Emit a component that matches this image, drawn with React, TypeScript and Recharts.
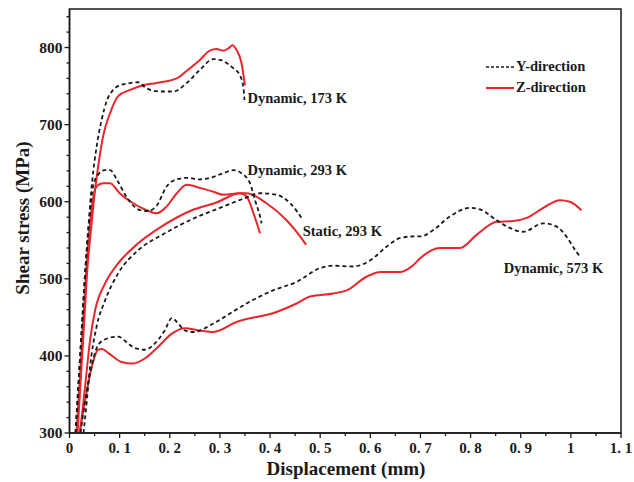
import React from 'react';
import { LineChart, Line, XAxis, YAxis, ReferenceArea, ReferenceDot, Legend } from 'recharts';

// ---- data: [displacement (mm), shear stress (MPa)] ----
const dyn173Y = [
  [0.012, 300], [0.024, 430], [0.032, 516], [0.038, 570], [0.045, 625], [0.054, 671], [0.064, 706],
  [0.075, 732], [0.087, 745], [0.1, 751], [0.114, 753], [0.137, 755], [0.154, 747], [0.18, 743],
  [0.207, 743], [0.234, 754], [0.26, 771], [0.287, 785], [0.3, 784], [0.327, 773], [0.34, 764],
  [0.347, 747], [0.349, 732],
];
const dyn173Z = [
  [0.016, 300], [0.028, 430], [0.036, 516], [0.043, 565], [0.05, 610], [0.057, 645], [0.067, 685],
  [0.081, 715], [0.097, 737], [0.121, 745], [0.147, 751], [0.174, 754], [0.214, 760], [0.234, 770],
  [0.26, 784], [0.28, 796], [0.293, 798], [0.307, 796], [0.317, 799], [0.325, 803], [0.333, 797],
  [0.343, 780], [0.35, 751],
];
const dyn293Y = [
  [0.012, 300], [0.024, 430], [0.032, 516], [0.04, 580], [0.047, 620], [0.058, 636], [0.07, 641],
  [0.081, 641], [0.095, 628], [0.114, 606], [0.141, 589], [0.157, 588], [0.174, 595], [0.194, 620],
  [0.214, 629], [0.234, 631], [0.26, 629], [0.28, 631], [0.307, 637], [0.327, 641], [0.343, 637],
  [0.36, 624], [0.37, 602], [0.38, 581], [0.383, 572],
];
const dyn293Z = [
  [0.014, 300], [0.026, 430], [0.034, 516], [0.04, 565], [0.046, 600], [0.054, 620], [0.067, 624],
  [0.081, 624], [0.1, 611], [0.127, 598], [0.154, 589], [0.174, 585], [0.194, 594], [0.214, 611],
  [0.234, 622], [0.26, 618], [0.287, 613], [0.307, 609], [0.34, 611], [0.353, 607], [0.367, 585],
  [0.38, 559],
];
const static293Y = [
  [0.028, 300], [0.035, 345], [0.041, 386], [0.054, 438], [0.071, 472], [0.097, 507], [0.137, 537],
  [0.19, 559], [0.25, 579], [0.3, 592], [0.347, 604], [0.38, 611], [0.413, 609], [0.44, 598],
  [0.466, 576],
];
const static293Z = [
  [0.021, 300], [0.031, 360], [0.041, 420], [0.051, 459], [0.071, 494], [0.097, 520], [0.137, 546],
  [0.184, 568], [0.244, 589], [0.293, 599], [0.34, 611], [0.353, 611], [0.393, 598], [0.433, 576],
  [0.46, 555], [0.472, 544],
];
const dyn573Y = [
  [0.022, 300], [0.031, 342], [0.044, 386], [0.057, 414], [0.077, 423], [0.097, 425], [0.117, 416],
  [0.131, 410], [0.151, 408], [0.17, 416], [0.19, 433], [0.204, 449], [0.217, 442], [0.23, 433],
  [0.247, 431], [0.287, 442], [0.32, 455], [0.353, 468], [0.406, 485], [0.453, 496], [0.5, 514],
  [0.526, 517], [0.566, 516], [0.6, 524], [0.633, 542], [0.66, 553], [0.686, 555], [0.7, 555],
  [0.725, 563], [0.759, 581], [0.799, 592], [0.819, 590], [0.852, 576], [0.878, 566], [0.905, 561],
  [0.945, 572], [0.971, 568], [0.991, 555], [1.011, 535], [1.018, 529],
];
const dyn573Z = [
  [0.02, 300], [0.032, 345], [0.044, 385], [0.057, 408], [0.065, 409], [0.077, 404], [0.104, 392],
  [0.124, 390], [0.151, 397], [0.177, 412], [0.204, 429], [0.23, 436], [0.26, 433], [0.287, 431],
  [0.333, 444], [0.413, 457], [0.453, 468], [0.48, 477], [0.526, 481], [0.553, 485], [0.593, 503],
  [0.62, 509], [0.66, 509], [0.686, 518], [0.7, 527], [0.739, 540], [0.779, 540], [0.812, 557],
  [0.852, 574], [0.885, 575], [0.912, 579], [0.945, 592], [0.978, 602], [0.998, 600], [1.021, 589],
];

const xTicks = [0, 0.05, 0.1, 0.15, 0.2, 0.25, 0.3, 0.35, 0.4, 0.45, 0.5, 0.55, 0.6, 0.65, 0.7, 0.75, 0.8, 0.85, 0.9, 0.95, 1, 1.05, 1.1];
const yTicks = [300, 320, 340, 360, 380, 400, 420, 440, 460, 480, 500, 520, 540, 560, 580, 600, 620, 640, 660, 680, 700, 720, 740, 760, 780, 800, 820, 840];

const annotations = [
  { text: 'Dynamic, 173 K', x: 0.355, y: 735 },
  { text: 'Dynamic, 293 K', x: 0.355, y: 641 },
  { text: 'Static, 293 K', x: 0.465, y: 562 },
  { text: 'Dynamic, 573 K', x: 0.866, y: 514 },
];

const FONT = '"Liberation Serif", "Times New Roman", serif';
const RED = '#e8262b';
const BLACK = '#1a1a1a';

const toPts = (arr: number[][]) => arr.map(([x, y]) => ({ x, y }));

const seriesY = [dyn173Y, dyn293Y, static293Y, dyn573Y];
const seriesZ = [dyn173Z, dyn293Z, static293Z, dyn573Z];

const fmtX = (v: number) => {
  const r = Math.round(v * 10) / 10;
  if (Number.isInteger(r)) return String(r);
  return r.toFixed(1).replace('.', '. ');
};

const XTick = (props: any) => {
  const { x, y, payload } = props;
  const v = payload.value as number;
  const major = Math.abs(v * 10 - Math.round(v * 10)) < 1e-6;
  return (
    <g>
      <line x1={x} x2={x} y1={y} y2={y + (major ? 5 : 3)} stroke={BLACK} strokeWidth={1.3} />
      {major && (
        <text x={x} y={y + 20} textAnchor="middle" fontFamily={FONT} fontWeight="bold" fontSize={15} fill={BLACK}>
          {fmtX(v)}
        </text>
      )}
    </g>
  );
};

const YTick = (props: any) => {
  const { x, y, payload } = props;
  const v = payload.value as number;
  const major = v % 100 === 0;
  return (
    <g>
      <line x1={x - (major ? 5 : 3)} x2={x} y1={y} y2={y} stroke={BLACK} strokeWidth={1.3} />
      {major && (
        <text x={x - 7} y={y + 5} textAnchor="end" fontFamily={FONT} fontWeight="bold" fontSize={15.5} fill={BLACK}>
          {v}
        </text>
      )}
    </g>
  );
};

const renderLegend = () => (
  <div style={{ fontFamily: FONT, fontWeight: 'bold', fontSize: 14.5, color: BLACK, lineHeight: '21px' }}>
    <div style={{ display: 'flex', alignItems: 'center', whiteSpace: 'nowrap' }}>
      <svg width={30} height={6}>
        <line x1={0} x2={28} y1={3} y2={3} stroke={BLACK} strokeWidth={1.6} strokeDasharray="3 2" />
      </svg>
      <span>Y-direction</span>
    </div>
    <div style={{ display: 'flex', alignItems: 'center', whiteSpace: 'nowrap' }}>
      <svg width={30} height={6}>
        <line x1={0} x2={28} y1={3} y2={3} stroke={RED} strokeWidth={2} />
      </svg>
      <span>Z-direction</span>
    </div>
  </div>
);

export default function App() {
  return (
    <div style={{ position: 'absolute', left: 0, top: 0 }}>
      <LineChart width={634} height={482} margin={{ top: 9, right: 13, left: 0, bottom: 0 }}>
        <XAxis
          type="number"
          dataKey="x"
          domain={[0, 1.1]}
          ticks={xTicks}
          interval={0}
          tickSize={0}
          tickMargin={0}
          tickLine={false}
          tick={XTick}
          height={49}
          allowDataOverflow
          axisLine={{ stroke: BLACK, strokeWidth: 1.5 }}
          label={{
            content: () => (
              <text x={346} y={475} textAnchor="middle" fontFamily={FONT} fontWeight="bold" fontSize={19} fill={BLACK}>
                Displacement (mm)
              </text>
            ),
          }}
        />
        <YAxis
          type="number"
          domain={[300, 850]}
          ticks={yTicks}
          interval={0}
          tickSize={0}
          tickMargin={0}
          tickLine={false}
          tick={YTick}
          width={69.5}
          allowDataOverflow
          axisLine={{ stroke: BLACK, strokeWidth: 1.5 }}
          label={{
            content: () => (
              <text
                x={22}
                y={218}
                transform="rotate(-90 22 218)"
                textAnchor="middle"
                dominantBaseline="central"
                fontFamily={FONT}
                fontWeight="bold"
                fontSize={19}
                fill={BLACK}
              >
                Shear stress (MPa)
              </text>
            ),
          }}
        />
        <ReferenceArea x1={0} x2={1.1} y1={300} y2={850} fill="none" stroke={BLACK} strokeWidth={1.5} ifOverflow="visible" />
        {seriesZ.map((s, i) => (
          <Line
            key={'z' + i}
            data={toPts(s)}
            dataKey="y"
            type="monotone"
            stroke={RED}
            strokeWidth={2}
            dot={false}
            activeDot={false}
            isAnimationActive={false}
            legendType="none"
          />
        ))}
        {seriesY.map((s, i) => (
          <Line
            key={'y' + i}
            data={toPts(s)}
            dataKey="y"
            type="monotone"
            stroke={BLACK}
            strokeWidth={1.8}
            strokeDasharray="4 3"
            dot={false}
            activeDot={false}
            isAnimationActive={false}
            legendType="none"
          />
        ))}
        {annotations.map((a) => (
          <ReferenceDot
            key={a.text}
            x={a.x}
            y={a.y}
            r={0}
            fill="none"
            stroke="none"
            ifOverflow="visible"
            label={{
              value: a.text,
              position: 'right',
              offset: 0,
              fontFamily: FONT,
              fontWeight: 'bold',
              fontSize: 14.5,
              fill: BLACK,
            }}
          />
        ))}
        <Legend
          layout="horizontal"
          verticalAlign="middle"
          align="center"
          content={renderLegend}
          wrapperStyle={{ left: 486, top: 56, width: 'auto', height: 'auto' }}
        />
      </LineChart>
    </div>
  );
}
